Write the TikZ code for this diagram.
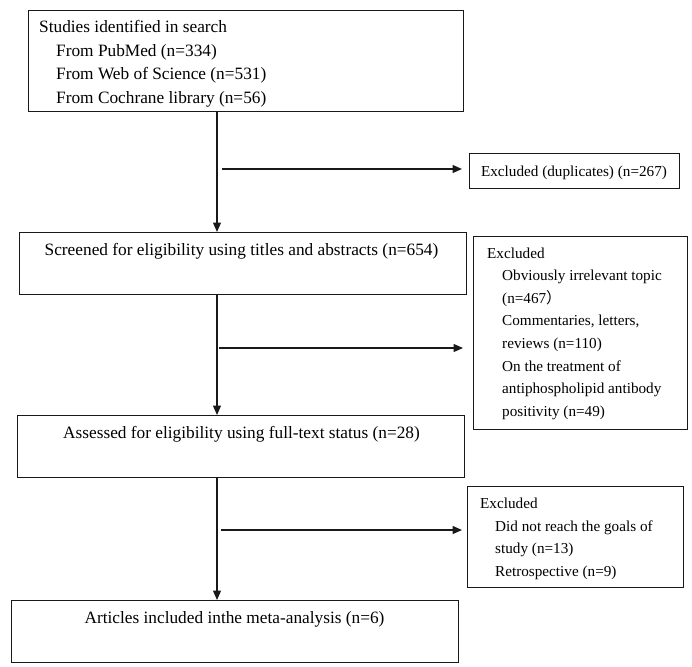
\documentclass[tikz,border=0pt]{standalone}
\usepackage{fontspec}
\setmainfont{Liberation Serif}
\newfontfamily\cjk{Noto Sans CJK SC}
\usetikzlibrary{arrows.meta}
\tikzset{
  box/.style={draw=black!90, line width=1.2pt, rectangle, inner sep=0pt, anchor=north west},
  bigtxt/.style={font=\fontsize{17.3}{20}\selectfont, inner sep=0pt},
  smalltxt/.style={font=\fontsize{15.2}{18}\selectfont, inner sep=0pt, anchor=base west},
  arr/.style={draw=black!90, line width=1.3pt, -{Triangle[length=9.5pt,width=8pt]}}
}
\begin{document}
\begin{tikzpicture}[x=1pt,y=-1pt]
\useasboundingbox (0,0) rectangle (692,666);
% main boxes
\node[box, minimum width=435, minimum height=101] (b1) at (28,10) {};
\node[box, minimum width=447, minimum height=62] (b2) at (19,232) {};
\node[box, minimum width=447, minimum height=62] (b3) at (17,415) {};
\node[box, minimum width=447, minimum height=62] (b4) at (11,600) {};
% excluded boxes
\node[box, minimum width=210, minimum height=35] (e1) at (469,153) {};
\node[box, minimum width=214, minimum height=193] (e2) at (473,236) {};
\node[box, minimum width=216, minimum height=101] (e3) at (467,486) {};
% box 1 text
\node[bigtxt, anchor=base west] (t11) at (39,33) {Studies identified in search};
\node[bigtxt, anchor=base west] (t12) at (56,56.5) {From PubMed (n=334)};
\node[bigtxt, anchor=base west] (t13) at (56,80) {From Web of Science (n=531)};
\node[bigtxt, anchor=base west] (t14) at (56,103) {From Cochrane library (n=56)};
% centered texts
\node[bigtxt, anchor=base] (t2) at (241.5,255) {Screened for eligibility using titles and abstracts (n=654)};
\node[bigtxt, anchor=base] (t3) at (241.5,438) {Assessed for eligibility using full-text status (n=28)};
\node[bigtxt, anchor=base] (t4) at (234.5,623) {Articles included inthe meta-analysis (n=6)};
% excluded texts
\node[smalltxt, anchor=base] (te1) at (574,176.5) {Excluded (duplicates) (n=267)};
\node[smalltxt] (te21) at (487,258) {Excluded};
\node[smalltxt] (te22) at (502,280.6) {Obviously irrelevant topic};
\node[smalltxt] (te23) at (502,303.2) {(n=467{\cjk ）}};
\node[smalltxt] (te24) at (502,325.8) {Commentaries, letters,};
\node[smalltxt] (te25) at (502,348.4) {reviews (n=110)};
\node[smalltxt] (te26) at (502,371) {On the treatment of};
\node[smalltxt] (te27) at (502,393.6) {antiphospholipid antibody};
\node[smalltxt] (te28) at (502,416.2) {positivity (n=49)};
\node[smalltxt] (te31) at (480,508) {Excluded};
\node[smalltxt] (te32) at (495,531) {Did not reach the goals of};
\node[smalltxt] (te33) at (495,553.5) {study (n=13)};
\node[smalltxt] (te34) at (495,576) {Retrospective (n=9)};
% connectors
\coordinate (vx) at (217,0);
\draw[arr] (b1.south -| vx) -- (b2.north -| vx);
\draw[arr] (b2.south -| vx) -- (b3.north -| vx);
\draw[arr] (b3.south -| vx) -- (b4.north -| vx);
\coordinate (h1) at (222,169);
\coordinate (h2) at (219,348);
\coordinate (h3) at (221,530);
\draw[arr, shorten >=7pt] (h1) -- (h1 -| e1.west);
\draw[arr, shorten >=10pt] (h2) -- (h2 -| e2.west);
\draw[arr, shorten >=5pt] (h3) -- (h3 -| e3.west);
\end{tikzpicture}
\end{document}
